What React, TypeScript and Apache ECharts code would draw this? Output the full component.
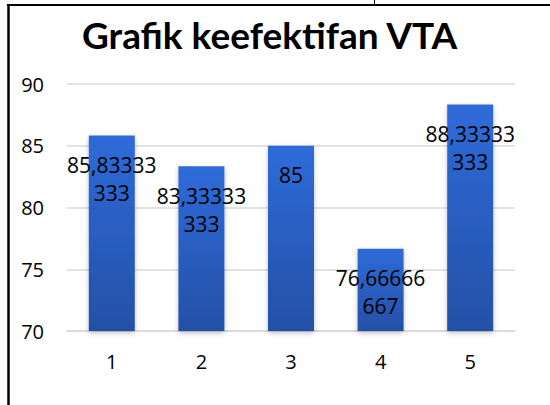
import React, { useEffect, useRef } from "react";
import * as echarts from "echarts";

const categories = ["1", "2", "3", "4", "5"];
const values = [85.83333333, 83.33333333, 85, 76.66666667, 88.33333333];
const yTicks = { min: 70, max: 90, interval: 5 };
const titleText = "Grafik keefektifan VTA";

function excelLabel(v: number): string {
  const s = String(v).replace(".", ",");
  const parts: string[] = [];
  for (let i = 0; i < s.length; i += 8) parts.push(s.slice(i, i + 8));
  return parts.join("\n");
}

export default function App() {
  const ref = useRef<HTMLDivElement>(null);
  useEffect(() => {
    if (!ref.current) return;
    const chart = echarts.init(ref.current, null, { renderer: "svg" });
    const font = "'Open Sans', 'Noto Sans', sans-serif";
    chart.setOption({
      animation: false,
      backgroundColor: "#ffffff",
      title: {
        text: titleText,
        left: 77,
        top: 11,
        textStyle: {
          fontFamily: "Lato, 'Open Sans', sans-serif",
          fontWeight: "bold",
          fontSize: 37,
          color: "#000000",
        },
      },
      grid: { left: 67, right: 35, top: 84, bottom: 74 },
      xAxis: {
        type: "category",
        data: categories,
        axisLine: { show: true, lineStyle: { color: "#D9D9D9", width: 1.5 } },
        axisTick: { show: false },
        axisLabel: { fontSize: 20, color: "#000000", fontFamily: font, margin: 20 },
      },
      yAxis: {
        type: "value",
        min: yTicks.min,
        max: yTicks.max,
        interval: yTicks.interval,
        axisLine: { show: false },
        axisTick: { show: false },
        splitLine: { lineStyle: { color: "#D9D9D9", width: 1.5 } },
        axisLabel: { fontSize: 20, color: "#000000", fontFamily: font, margin: 23 },
      },
      series: [
        {
          type: "bar",
          data: values,
          barWidth: 46,
          itemStyle: {
            color: new echarts.graphic.LinearGradient(0, 0, 0, 1, [
              { offset: 0, color: "#2E6BD9" },
              { offset: 1, color: "#2450A6" },
            ]),
            shadowBlur: 5,
            shadowColor: "rgba(0,0,0,0.25)",
            shadowOffsetY: 2,
          },
          label: {
            show: true,
            position: "insideTop",
            distance: 15,
            formatter: (p: any) => excelLabel(p.value),
            fontSize: 21,
            lineHeight: 28.5,
            color: "#000000",
            fontFamily: font,
          },
        },
      ],
      graphic: [
        {
          type: "line",
          shape: { x1: 8.5, y1: 5, x2: 8.5, y2: 405 },
          style: { stroke: "#000000", lineWidth: 2.5 },
        },
        {
          type: "line",
          shape: { x1: 7, y1: 5, x2: 550, y2: 5 },
          style: { stroke: "#000000", lineWidth: 2 },
        },
        {
          type: "line",
          shape: { x1: 374.5, y1: 0, x2: 374.5, y2: 5 },
          style: { stroke: "#000000", lineWidth: 1 },
        },
      ],
    });
    return () => chart.dispose();
  }, []);
  return (
    <div
      ref={ref}
      style={{ position: "fixed", left: 0, top: 0, width: 550, height: 405 }}
    />
  );
}
